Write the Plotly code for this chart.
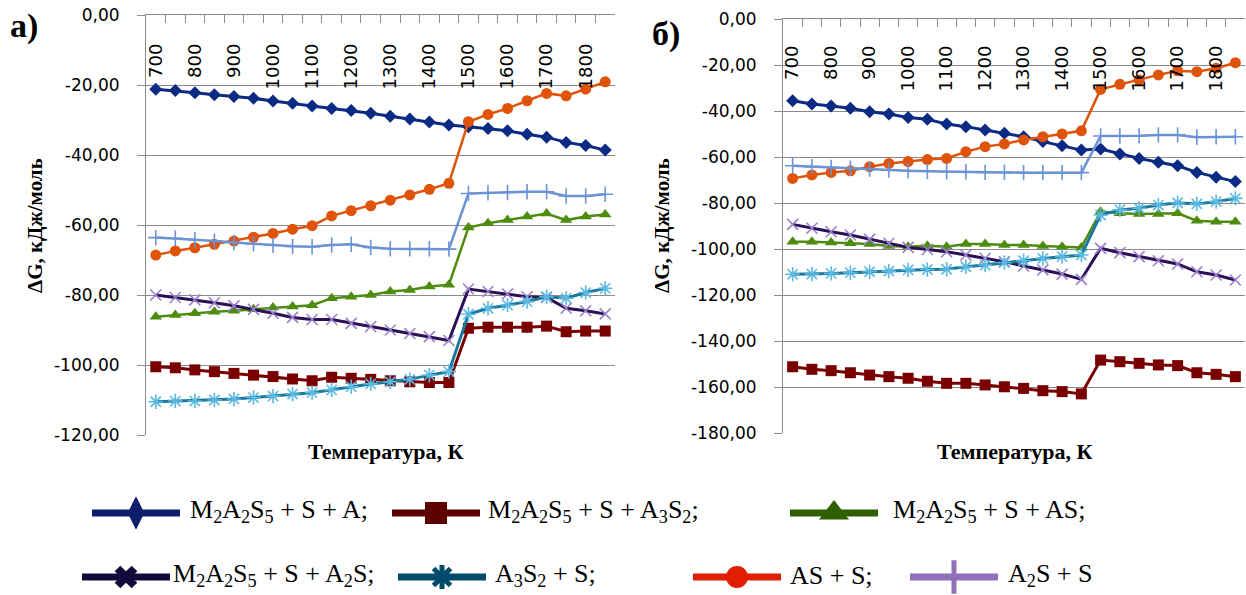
import plotly.graph_objects as go

# ---------------- data ----------------
temps = [700 + 50 * i for i in range(24)]
tick_vals = [700, 800, 900, 1000, 1100, 1200, 1300, 1400, 1500, 1600, 1700, 1800]
tick_text = [str(v) for v in tick_vals]
boundary_ticks = [675 + 50 * i for i in range(25)]

series_names = [
    "M<sub>2</sub>A<sub>2</sub>S<sub>5</sub> + S + A;",
    "M<sub>2</sub>A<sub>2</sub>S<sub>5</sub> + S + A<sub>3</sub>S<sub>2</sub>;",
    "M<sub>2</sub>A<sub>2</sub>S<sub>5</sub> + S + AS;",
    "M<sub>2</sub>A<sub>2</sub>S<sub>5</sub> + S + A<sub>2</sub>S;",
    "A<sub>3</sub>S<sub>2</sub> + S;",
    "AS + S;",
    "A<sub>2</sub>S + S",
]

# panel a)
a_m2a2s5_s_a = [-21.2, -21.6, -22.2, -22.8, -23.3, -23.8, -24.6, -25.2, -26.0, -26.7, -27.3, -28.1,
                -28.9, -29.7, -30.6, -31.4, -31.9, -32.4, -33.1, -34.1, -34.9, -36.4, -37.3, -38.6]
a_m2a2s5_s_a3s2 = [-100.5, -100.8, -101.4, -101.9, -102.4, -102.9, -103.3, -104.0, -104.5, -103.5, -103.8, -104.1,
                   -104.5, -104.8, -105.0, -105.0, -89.5, -89.2, -89.2, -89.2, -88.9, -90.5, -90.3, -90.3]
a_m2a2s5_s_as = [-86.2, -85.7, -85.2, -84.8, -84.5, -84.1, -83.6, -83.3, -82.9, -80.9, -80.5, -80.0,
                 -79.0, -78.6, -77.6, -77.1, -60.7, -59.5, -58.6, -57.6, -56.7, -58.6, -57.6, -57.0]
a_m2a2s5_s_a2s = [-80.0, -80.7, -81.4, -82.2, -83.1, -84.1, -85.2, -86.4, -87.0, -87.0, -88.1, -89.0,
                  -90.0, -91.0, -91.9, -93.0, -78.3, -79.0, -79.7, -80.5, -80.7, -83.8, -84.5, -85.4]
a_a3s2_s = [-110.5, -110.3, -110.3, -110.0, -109.7, -109.3, -108.9, -108.3, -107.9, -107.1, -106.2, -105.4,
            -104.8, -104.1, -102.9, -101.9, -85.5, -83.8, -82.9, -81.9, -80.5, -80.9, -79.3, -78.1]
a_as_s = [-68.6, -67.4, -66.5, -65.5, -64.6, -63.5, -62.4, -61.2, -60.2, -57.4, -55.9, -54.5,
          -52.9, -51.4, -49.8, -48.1, -30.5, -28.4, -26.7, -24.5, -22.4, -23.1, -21.2, -19.1]
a_a2s_s = [-63.6, -63.8, -64.2, -64.6, -65.0, -65.4, -65.8, -66.1, -66.2, -65.7, -65.5, -66.4,
           -66.8, -66.8, -66.8, -66.9, -51.0, -50.8, -50.7, -50.5, -50.5, -51.7, -51.7, -51.2]

# panel б)
b_m2a2s5_s_a = [-35.5, -37.0, -37.8, -38.8, -40.3, -41.3, -42.8, -43.6, -45.7, -46.8, -48.3, -49.7,
                -51.2, -53.3, -55.1, -57.0, -56.5, -58.7, -60.6, -62.3, -63.8, -66.7, -68.8, -70.7]
b_m2a2s5_s_a3s2 = [-151.2, -152.3, -152.9, -153.8, -154.8, -155.5, -156.2, -157.5, -158.4, -158.4, -159.1, -159.9,
                   -160.6, -161.6, -162.0, -163.0, -148.3, -149.0, -149.7, -150.4, -150.7, -153.8, -154.5, -155.5]
b_m2a2s5_s_as = [-96.8, -96.8, -97.2, -97.5, -97.8, -98.7, -99.0, -98.6, -99.0, -97.8, -97.8, -98.3,
                 -98.3, -98.7, -99.0, -99.3, -83.8, -84.5, -84.8, -84.8, -84.5, -87.7, -88.1, -88.1]
b_m2a2s5_s_a2s = [-89.3, -91.0, -92.5, -93.9, -95.8, -97.5, -99.3, -100.2, -101.2, -102.6, -104.1, -105.5,
                  -107.4, -109.1, -110.9, -113.2, -99.7, -101.6, -103.3, -105.1, -106.5, -109.9, -111.3, -113.5]
b_a3s2_s = [-111.0, -110.9, -110.6, -110.3, -109.9, -109.6, -109.1, -108.9, -108.8, -107.7, -107.0, -105.9,
            -105.1, -104.1, -103.3, -102.6, -85.2, -83.0, -82.3, -80.9, -79.9, -80.4, -79.4, -78.0]
b_as_s = [-69.3, -67.8, -66.7, -66.0, -64.2, -62.8, -62.0, -61.1, -60.6, -57.7, -55.5, -54.3,
          -52.6, -51.2, -50.0, -48.6, -30.6, -28.4, -26.5, -24.3, -22.5, -22.9, -21.4, -19.0]
b_a2s_s = [-63.8, -64.2, -64.5, -64.9, -65.2, -65.7, -66.0, -66.2, -66.4, -66.4, -66.7, -66.7,
           -66.8, -66.8, -66.8, -66.8, -50.9, -50.9, -50.8, -50.4, -50.4, -51.4, -51.2, -51.2]

a_series = [a_m2a2s5_s_a, a_m2a2s5_s_a3s2, a_m2a2s5_s_as, a_m2a2s5_s_a2s, a_a3s2_s, a_as_s, a_a2s_s]
b_series = [b_m2a2s5_s_a, b_m2a2s5_s_a3s2, b_m2a2s5_s_as, b_m2a2s5_s_a2s, b_a3s2_s, b_as_s, b_a2s_s]

a_yticks = [0, -20, -40, -60, -80, -100, -120]
b_yticks = [0, -20, -40, -60, -80, -100, -120, -140, -160, -180]

# ---------------- styles ----------------
W, H = 1246, 595
line_colors = ["#0a2a83", "#7a0000", "#4d8c0e", "#2c1156", "#1a7a9e", "#e0530a", "#6b93d6"]
marker_colors = ["#0a2a83", "#7a0000", "#4d8c0e", "#9a80cc", "#5ab9e2", "#e0530a", "#6b93d6"]
symbols = ["diamond", "square", "triangle-up", "x-thin-open", "asterisk-open", "circle", "cross-thin-open"]
msizes = [10, 11, 11, 11, 12, 11, 11]
lwidths = [3, 3, 2.5, 3, 3, 2.5, 2.5]

leg_colors = ["#0c1d6b", "#5c0000", "#2f5f00", "#120a3a", "#004a6a", "#e01e00", "#9070b8"]
leg_symbols = ["diamond-tall", "square", "triangle-up", "x", "asterisk-open", "circle", "cross-thin-open"]
leg_msizes = [24, 22, 26, 20, 20, 22, 24]
# legend entry layout: (line x start, row y, text x start) in pixels
leg_layout = [(92, 513, 188), (392, 513, 486), (790, 513, 891),
              (82, 577, 171), (398, 577, 493), (693, 577, 788), (910, 577, 1006)]
leg_len = 88
LEG_TOP = 485

GRID = "#8a8a8a"
YTICKFONT = dict(family="DejaVu Sans", size=17, color="black")
XTICKFONT = dict(family="DejaVu Sans", size=18, color="black")


def fx(px):
    return px / W


def fy(py):
    return 1 - py / H


fig = go.Figure()

panels = [
    dict(series=a_series, xa="x", ya="y", xl="x4"),
    dict(series=b_series, xa="x2", ya="y2", xl="x5"),
]
for p in panels:
    for k, vals in enumerate(p["series"]):
        mline = dict(width=1.6, color=marker_colors[k]) if symbols[k].endswith("open") else dict(width=0)
        fig.add_trace(go.Scatter(
            x=temps, y=vals, xaxis=p["xa"], yaxis=p["ya"], mode="lines+markers",
            line=dict(color=line_colors[k], width=lwidths[k]),
            marker=dict(symbol=symbols[k], size=msizes[k], color=marker_colors[k], line=mline),
            showlegend=False, hoverinfo="skip", cliponaxis=False))
    # empty trace so the label axis gets drawn
    fig.add_trace(go.Scatter(x=temps, y=[None] * len(temps), xaxis=p["xl"], yaxis=p["ya"], mode="lines",
                             showlegend=False, hoverinfo="skip"))

# legend drawn on a pixel-scaled strip below the panels
for k in range(7):
    x0, y0, tx = leg_layout[k]
    fig.add_trace(go.Scatter(x=[x0, x0 + leg_len], y=[y0, y0], xaxis="x3", yaxis="y3", mode="lines",
                             line=dict(color=leg_colors[k], width=7), showlegend=False, hoverinfo="skip"))
    mline = dict(width=5, color=leg_colors[k]) if leg_symbols[k].endswith("open") else dict(width=0)
    fig.add_trace(go.Scatter(x=[x0 + leg_len / 2], y=[y0], xaxis="x3", yaxis="y3", mode="markers",
                             marker=dict(symbol=leg_symbols[k], size=leg_msizes[k], color=leg_colors[k], line=mline),
                             showlegend=False, hoverinfo="skip", cliponaxis=False))
    fig.add_annotation(x=fx(tx), y=fy(y0 - 2), xref="paper", yref="paper", xanchor="left", yanchor="middle",
                       text=series_names[k], showarrow=False,
                       font=dict(family="Liberation Serif", size=26, color="black"))


def xaxis_cfg(dom, anchor):
    # top axis line with category-boundary tick marks
    return dict(domain=dom, range=[675, 1875], side="top", anchor=anchor, showline=True, linecolor=GRID,
                linewidth=1, tickvals=boundary_ticks, ticks="inside", ticklen=8, tickcolor=GRID,
                showticklabels=False, showgrid=False, zeroline=False, fixedrange=True, automargin=False)


def xlabel_cfg(dom, over, pos):
    # tick labels hanging just below the top axis
    return dict(domain=dom, range=[675, 1875], overlaying=over, anchor="free", position=pos, side="bottom",
                tickvals=tick_vals, ticktext=tick_text, tickangle=-90, ticks="", showline=False,
                showgrid=False, zeroline=False, tickfont=XTICKFONT, fixedrange=True, automargin=False)


def yaxis_cfg(dom, yt, anchor):
    return dict(domain=dom, range=[yt[-1], 0], anchor=anchor, tickvals=yt,
                ticktext=[("%.2f" % v).replace(".", ",") for v in yt],
                showline=True, linecolor=GRID, linewidth=1, ticks="outside", ticklen=8, tickcolor=GRID,
                ticklabelstandoff=14,
                showgrid=True, gridcolor=GRID, gridwidth=1, zeroline=False, tickfont=YTICKFONT,
                fixedrange=True, automargin=False)


fig.update_layout(
    width=W, height=H, autosize=False, margin=dict(l=0, r=0, t=0, b=0, autoexpand=False),
    paper_bgcolor="white", plot_bgcolor="rgba(0,0,0,0)",
    xaxis=xaxis_cfg([fx(146), fx(615)], "y"),
    yaxis=yaxis_cfg([fy(435), fy(15)], a_yticks, "x"),
    xaxis2=xaxis_cfg([fx(783), fx(1245)], "y2"),
    yaxis2=yaxis_cfg([fy(433), fy(19)], b_yticks, "x2"),
    xaxis3=dict(domain=[0, 1], range=[0, W], visible=False, anchor="y3", fixedrange=True, automargin=False),
    yaxis3=dict(domain=[0, fy(LEG_TOP)], range=[H, LEG_TOP], visible=False, anchor="x3", fixedrange=True,
                automargin=False),
    xaxis4=xlabel_cfg([fx(146), fx(615)], "x", fy(39)),
    xaxis5=xlabel_cfg([fx(783), fx(1245)], "x2", fy(41)),
)

# axis titles and panel labels
ytitle = "<b>ΔG, кДж/моль</b>"
for cx, cy, txt, size, ang in [(385, 451, "<b>Температура, К</b>", 22, 0),
                               (1014, 451, "<b>Температура, К</b>", 22, 0),
                               (35, 226, ytitle, 21, -90), (662, 226, ytitle, 21, -90),
                               (24, 26, "<b>а)</b>", 34, 0), (666, 34, "<b>б)</b>", 34, 0)]:
    fig.add_annotation(x=fx(cx), y=fy(cy), xref="paper", yref="paper", xanchor="center", yanchor="middle",
                       text=txt, showarrow=False, textangle=ang,
                       font=dict(family="Liberation Serif", size=size, color="black"))

fig.write_html("out.html", config={"displayModeBar": False},
               post_script="document.body.style.margin='0px';document.body.style.overflow='hidden';")
